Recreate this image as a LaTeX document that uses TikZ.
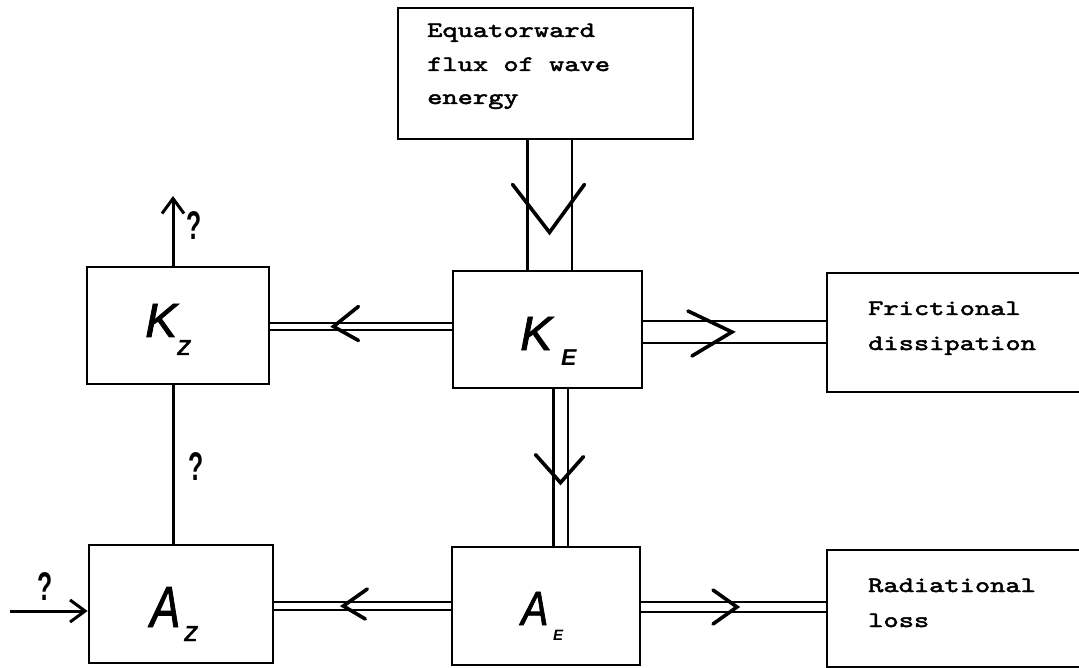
\documentclass[tikz,border=0pt]{standalone}
\usepackage{fontspec}
\setsansfont{Liberation Sans}
\newfontfamily\twfont[Extension=.otf,FakeStretch=1.32,FakeBold=2.2]{lmmono10-regular}
\newfontfamily\handfont[FakeBold=1.6]{Liberation Sans}
\usetikzlibrary{arrows.meta,calc}
\pgfdeclarelayer{bg}
\pgfsetlayers{bg,main}
\begin{document}
\begin{tikzpicture}[x=1pt,y=-1pt,
  box/.style={draw,line width=2.8pt,inner sep=0pt},
  txt/.style={font=\fontsize{22}{34}\selectfont\twfont,anchor=base west,inner sep=0pt},
  sym/.style={font=\fontsize{48}{48}\selectfont\handfont\itshape,anchor=base west,inner sep=0pt},
  bigsym/.style={font=\fontsize{58}{58}\selectfont\handfont\itshape,anchor=base west,inner sep=0pt},
  subz/.style={font=\fontsize{28}{28}\selectfont\handfont\itshape,anchor=base west,inner sep=0pt},
  sube/.style={font=\fontsize{#1}{#1}\selectfont\sffamily\itshape\bfseries,anchor=base west,inner sep=0pt},
  qm/.style={font=\fontsize{40}{40}\selectfont\sffamily\bfseries,inner sep=0pt},
  dbl/.style 2 args={line width=#1,double,double distance=#2},
  head/.style={line width=3.6pt,line cap=round,line join=miter},
  ln/.style={line width=3pt},
  barb/.style={-{Straight Barb[length=15pt,width=22pt]}}
]
\useasboundingbox (0,0) rectangle (1079,668);

% boxes
\node[box,minimum width=295pt,minimum height=131pt] (top) at (545.5,73.5) {};
\node[box,minimum width=182pt,minimum height=117pt] (KZ) at (178,325.5) {};
\node[box,minimum width=189pt,minimum height=117pt] (KE) at (547.5,329.5) {};
\node[box,minimum width=273pt,minimum height=119pt] (FD) at (963.5,332.5) {};
\node[box,minimum width=184pt,minimum height=118pt] (AZ) at (181,604) {};
\node[box,minimum width=188pt,minimum height=118pt] (AE) at (546,606) {};
\node[box,minimum width=273pt,minimum height=117pt] (RL) at (963.5,608.5) {};

% texts
\node[txt] (t1) at (427,37) {Equatorward};
\node[txt] (t2) at (427,71) {flux of wave};
\node[txt] (t3) at (427,104) {energy};
\node[txt] (f1) at (868,315) {Frictional};
\node[txt] (f2) at (868,350) {dissipation};
\node[txt] (r1) at (868,592) {Radiational};
\node[txt] (r2) at (868,627) {loss};

% symbols
\node[sym] (kz) at (145,337) {K};
\node[subz] (kzs) at (177,355) {z};
\node[sym] (ke) at (520,350) {K};
\node[sube=23] (kes) at (561,365) {E};
\node[bigsym] (az) at (150,627) {\scalebox{0.78}[1]{A}};
\node[subz] (azs) at (184,641) {z};
\node[sym] (ae) at (521,625) {\scalebox{0.85}[1]{A}};
\node[sube=15] (aes) at (553,640) {E};

% connector positions
\coordinate (x1) at (549.5,0);
\coordinate (y1) at (0,326.5);
\coordinate (y2) at (0,332);
\coordinate (x2) at (560.5,0);
\coordinate (y3) at (0,606);
\coordinate (y4) at (0,607);

\begin{pgfonlayer}{bg}
\draw[dbl={2.6pt}{42pt}] (top.south -| x1) -- coordinate[pos=0.712] (h1) (KE.north -| x1);
\draw[dbl={2pt}{5pt}] (KE.west |- y1) -- coordinate[pos=0.652] (h2) (KZ.east |- y1);
\draw[dbl={2.4pt}{19pt}] (KE.east |- y2) -- coordinate[pos=0.486] (h3) (FD.west |- y2);
\draw[dbl={2.4pt}{12pt}] (KE.south -| x2) -- coordinate[pos=0.597] (h4) (AE.north -| x2);
\draw[dbl={2pt}{5.5pt}] (AE.west |- y3) -- coordinate[pos=0.609] (h5) (AZ.east |- y3);
\draw[dbl={2pt}{8pt}] (AE.east |- y4) -- coordinate[pos=0.519] (h6) (RL.west |- y4);
\end{pgfonlayer}

% open arrowheads on the double connectors
\draw[head] ($(h1)+(-37,-48)$) -- (h1) -- ($(h1)+(35,-48)$);
\draw[head] ($(h2)+(25,-20)$) -- (h2) -- ($(h2)+(25,14)$);
\draw[head] ($(h3)+(-44,-21)$) -- (h3) -- ($(h3)+(-40,24)$);
\draw[head] ($(h4)+(-25,-28)$) -- (h4) -- ($(h4)+(23,-26)$);
\draw[head] ($(h5)+(24,-17)$) -- (h5) -- ($(h5)+(22,13)$);
\draw[head] ($(h6)+(-24,-17)$) -- (h6) -- ($(h6)+(-24,17)$);

% single connectors
\coordinate (up) at (173,196);
\coordinate (lin) at (10,611);
\draw[ln,barb] (KZ.north -| up) -- (up);
\draw[ln] (KZ.south -| up) -- (AZ.north -| up);
\draw[ln,barb] (lin) -- (lin -| AZ.west);

% question marks
\node[qm] (q1) at (194,226) {\scalebox{0.62}[1]{?}};
\node[qm] (q2) at (196,467) {\scalebox{0.62}[1]{?}};
\node[qm] (q3) at (45,587) {\scalebox{0.62}[1]{?}};
\end{tikzpicture}
\end{document}
